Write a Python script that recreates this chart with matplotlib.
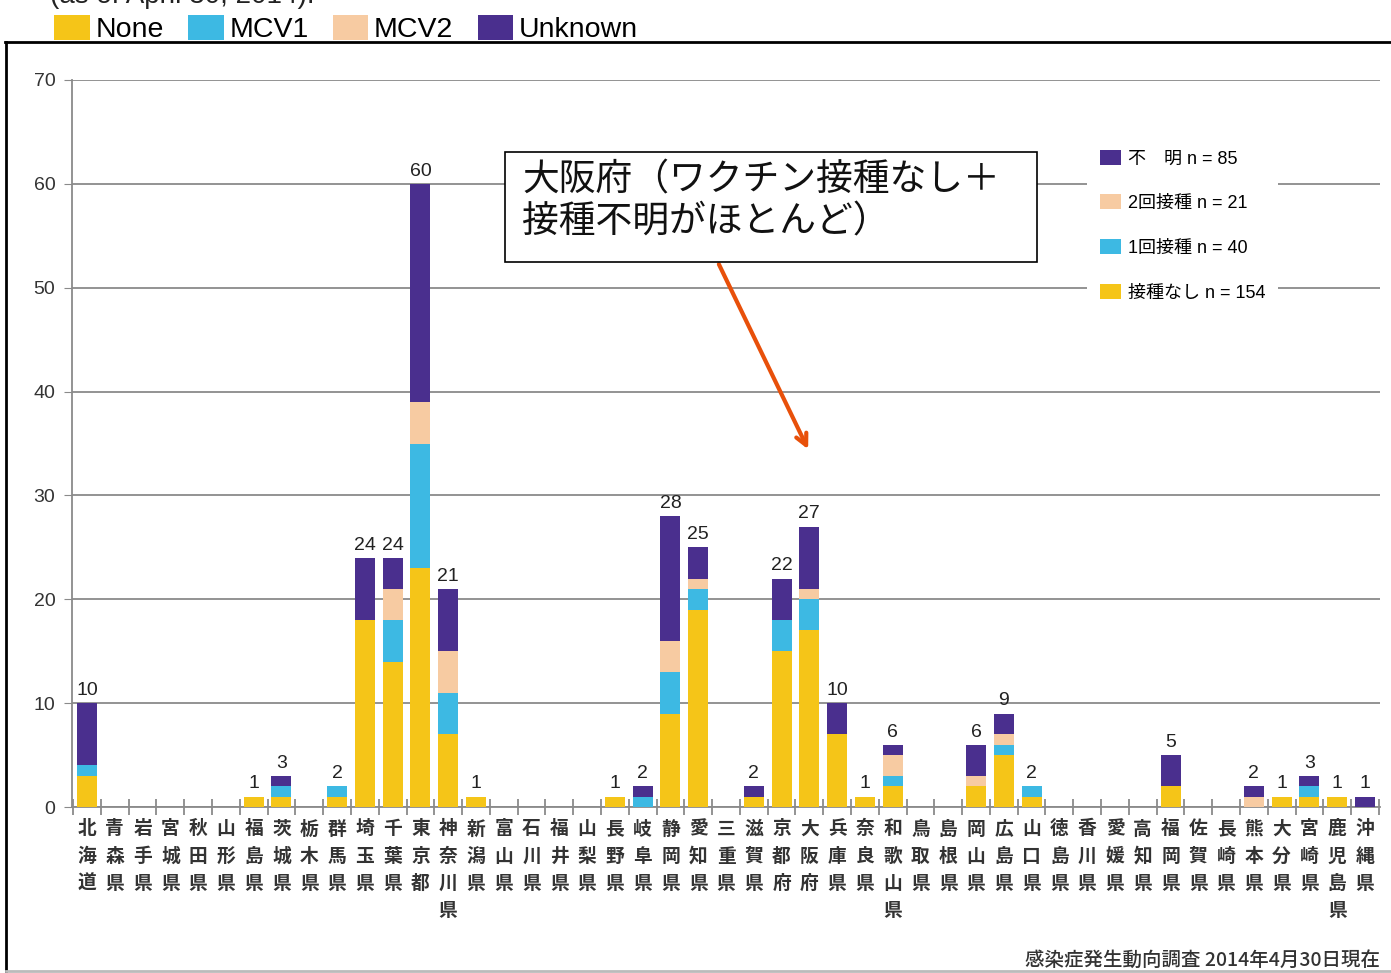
import matplotlib.pyplot as plt
from matplotlib.patches import Patch, Rectangle
from matplotlib.lines import Line2D
import numpy as np

plt.rcParams['font.family'] = ['Liberation Sans', 'Noto Sans CJK JP', 'DejaVu Sans']

# prefectures (north to south)
prefectures = ["北海道", "青森県", "岩手県", "宮城県", "秋田県", "山形県", "福島県", "茨城県", "栃木県",
               "群馬県", "埼玉県", "千葉県", "東京都", "神奈川県", "新潟県", "富山県", "石川県", "福井県",
               "山梨県", "長野県", "岐阜県", "静岡県", "愛知県", "三重県", "滋賀県", "京都府", "大阪府",
               "兵庫県", "奈良県", "和歌山県", "鳥取県", "島根県", "岡山県", "広島県", "山口県", "徳島県",
               "香川県", "愛媛県", "高知県", "福岡県", "佐賀県", "長崎県", "熊本県", "大分県", "宮崎県",
               "鹿児島県", "沖縄県"]

none_vals = [3, 0, 0, 0, 0, 0, 1, 1, 0, 1, 18, 14, 23, 7, 1, 0, 0, 0, 0, 1, 0, 9, 19, 0, 1, 15, 17,
             7, 1, 2, 0, 0, 2, 5, 1, 0, 0, 0, 0, 2, 0, 0, 0, 1, 1, 1, 0]
mcv1_vals = [1, 0, 0, 0, 0, 0, 0, 1, 0, 1, 0, 4, 12, 4, 0, 0, 0, 0, 0, 0, 1, 4, 2, 0, 0, 3, 3,
             0, 0, 1, 0, 0, 0, 1, 1, 0, 0, 0, 0, 0, 0, 0, 0, 0, 1, 0, 0]
mcv2_vals = [0, 0, 0, 0, 0, 0, 0, 0, 0, 0, 0, 3, 4, 4, 0, 0, 0, 0, 0, 0, 0, 3, 1, 0, 0, 0, 1,
             0, 0, 2, 0, 0, 1, 1, 0, 0, 0, 0, 0, 0, 0, 0, 1, 0, 0, 0, 0]
unknown_vals = [6, 0, 0, 0, 0, 0, 0, 1, 0, 0, 6, 3, 21, 6, 0, 0, 0, 0, 0, 0, 1, 12, 3, 0, 1, 4, 6,
                3, 0, 1, 0, 0, 3, 2, 0, 0, 0, 0, 0, 3, 0, 0, 1, 0, 1, 0, 1]

series_names = ["None", "MCV1", "MCV2", "Unknown"]
jp_legend = ["接種なし n = 154", "1回接種 n = 40", "2回接種 n = 21", "不　明 n = 85"]
colors = ["#F5C518", "#3DB9E3", "#F7CBA2", "#4A2F8E"]

W, H = 1391, 973
fig = plt.figure(figsize=(W / 100, H / 100), dpi=100)
ax = fig.add_axes([72 / W, 1 - 807 / H, (1380 - 72) / W, (807 - 80) / H])

x = np.arange(len(prefectures))
bottom = np.zeros(len(prefectures))
for vals, c in zip([none_vals, mcv1_vals, mcv2_vals, unknown_vals], colors):
    ax.bar(x, vals, bottom=bottom, width=0.72, color=c, zorder=3)
    bottom += np.array(vals)

totals = bottom
for xi, t in zip(x, totals):
    if t > 0:
        ax.text(xi, t + 0.4, f"{int(t)}", ha="center", va="bottom", fontsize=14, color="#222222", zorder=4)

ax.set_xlim(-0.54, 46.54)
ax.set_ylim(0, 70)
ax.set_yticks(range(0, 71, 10))
ax.grid(axis="y", color="#8a8a8a", linewidth=1.3, zorder=0)
for s in ["top", "right"]:
    ax.spines[s].set_visible(False)
for s in ["left", "bottom"]:
    ax.spines[s].set_color("#8a8a8a")
    ax.spines[s].set_linewidth(1.3)
ax.tick_params(axis="y", labelsize=14, labelcolor="#333333", color="#8a8a8a", length=6, pad=6)

ax.set_xticks(x)
ax.set_xticklabels(["\n".join(p) for p in prefectures], fontsize=13.5, color="#333333",
                   family=["Noto Sans CJK JP"], linespacing=1.55, fontweight="bold")
ax.tick_params(axis="x", which="major", length=0, pad=9)
ax.set_xticks(np.arange(-0.5, 47, 1), minor=True)
ax.tick_params(axis="x", which="minor", length=12, direction="inout", color="#8a8a8a", width=1.3)

# in-chart legend (Japanese)
handles = [Patch(facecolor=c) for c in colors][::-1]
leg = ax.legend(handles, jp_legend[::-1], loc="upper left", bbox_to_anchor=(0.769, 0.934),
                frameon=True, facecolor="white", edgecolor="none", framealpha=1,
                handlelength=1.2, handleheight=0.9, handletextpad=0.35,
                labelspacing=1.5, borderpad=0.7,
                prop={"family": ["Liberation Sans", "Noto Sans CJK JP"], "size": 13})
leg.set_zorder(5)

# annotation box and arrow
ax.annotate("", xy=(26, 34.2), xytext=(22.7, 52.5),
            arrowprops=dict(arrowstyle="->,head_length=0.8,head_width=0.4", color="#E8500A", lw=3))
fig.add_artist(Rectangle((505 / W, 1 - 262 / H), (1037 - 505) / W, (262 - 152) / H,
                         transform=fig.transFigure, facecolor="white", edgecolor="black", lw=1.2, zorder=6))
fig.text(522 / W, 1 - 180 / H, "大阪府（ワクチン接種なし＋", fontsize=26.5, va="center", ha="left",
         family=["Noto Sans CJK JP"], color="#111111", zorder=7)
fig.text(522 / W, 1 - 222 / H, "接種不明がほとんど）", fontsize=26.5, va="center", ha="left",
         family=["Noto Sans CJK JP"], color="#111111", zorder=7)

# top legend (English)
fig.legend([Patch(facecolor=c) for c in colors], series_names, loc="upper left",
           bbox_to_anchor=(40 / W, 1 - 1 / H), ncol=4, frameon=False, fontsize=20.5,
           handlelength=1.25, handleheight=0.95, handletextpad=0.2, columnspacing=0.85, borderpad=0)

# cut-off caption at top
fig.text(50 / W, 1 - 3 / H, "(as of April 30, 2014).", fontsize=20, va="baseline", ha="left", color="#222222")

# outer frame
fig.add_artist(Line2D([5 / W, 1], [1 - 42 / H, 1 - 42 / H], color="black", lw=2, transform=fig.transFigure))
fig.add_artist(Line2D([6 / W, 6 / W], [1 - 42 / H, 0], color="black", lw=2, transform=fig.transFigure))
fig.add_artist(Line2D([6 / W, 1], [1 - 971 / H, 1 - 971 / H], color="#bbbbbb", lw=2, transform=fig.transFigure))

fig.text(1380 / W, 1 - 960 / H, "感染症発生動向調査 2014年4月30日現在", fontsize=14, ha="right", va="center",
         family=["Noto Sans CJK JP"], color="#333333", fontweight="medium")

fig.savefig("out.png", dpi=100)
